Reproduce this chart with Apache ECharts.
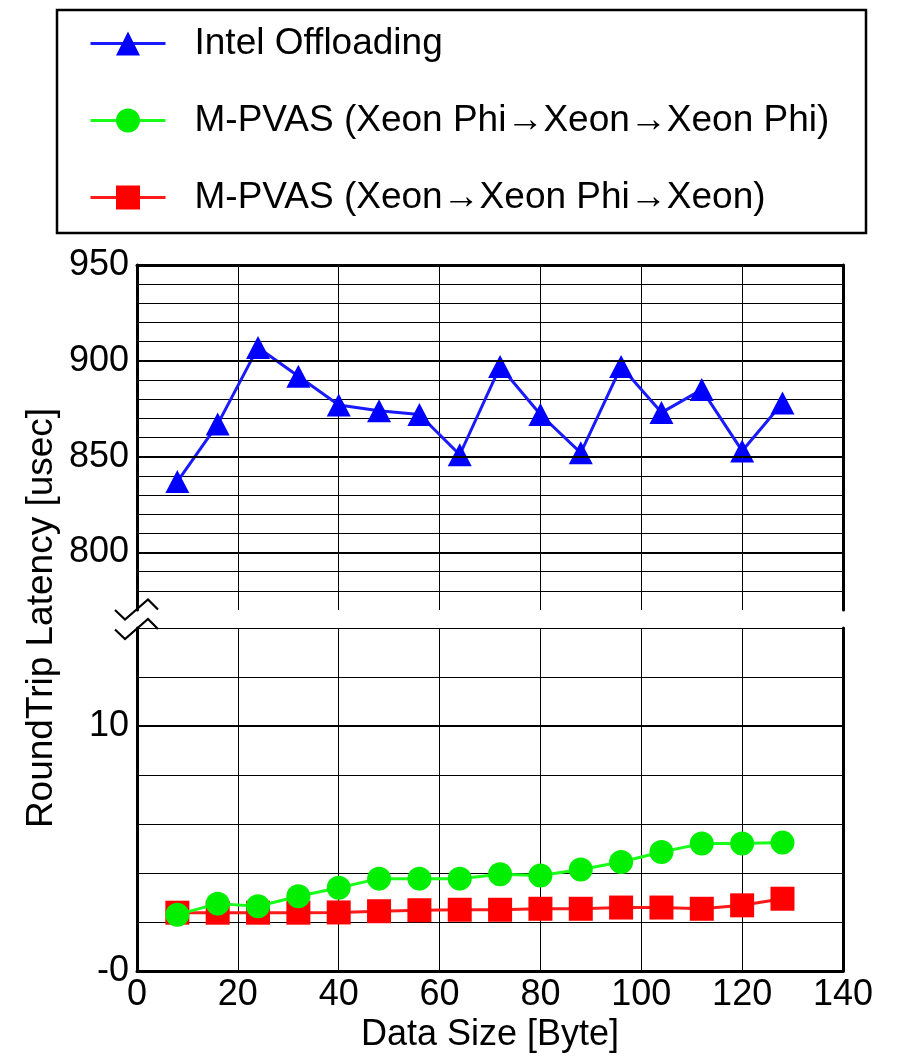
<!DOCTYPE html>
<html>
<head>
<meta charset="utf-8">
<script src="https://cdn.jsdelivr.net/npm/echarts@6/dist/echarts.min.js"></script>
<style>
  html, body { margin: 0; padding: 0; background: #fff; }
  #chart { width: 897px; height: 1056px; }
</style>
</head>
<body>
<div id="chart"></div>
<script>
// ---- data ----
const dataSizes = [8, 16, 24, 32, 40, 48, 56, 64, 72, 80, 88, 96, 104, 112, 120, 128];
const intelOffloading = [837, 867, 907, 892, 877, 874, 872, 851, 897, 872, 852, 897, 873, 885, 853, 878];
const mpvasPhiXeonPhi = [2.30, 2.75, 2.64, 3.05, 3.40, 3.77, 3.77, 3.77, 3.95, 3.90, 4.14, 4.45, 4.86, 5.20, 5.20, 5.24];
const mpvasXeonPhiXeon = [2.38, 2.38, 2.38, 2.38, 2.39, 2.44, 2.48, 2.50, 2.50, 2.54, 2.54, 2.59, 2.59, 2.54, 2.68, 2.95];
const seriesNames = ['Intel Offloading', 'M-PVAS (Xeon Phi\u2192Xeon\u2192Xeon Phi)', 'M-PVAS (Xeon\u2192Xeon Phi\u2192Xeon)'];
const topTickLabels = [800, 850, 900, 950];
const topMajorLines = [800, 850, 900];
const bottomTickLabels = { 0: '-0', 10: '10' };
const bottomMajorLines = [10];
const xTitle = 'Data Size [Byte]';
const yTitle = 'RoundTrip Latency [usec]';

const FONT = 'Liberation Sans, Arial, Helvetica, sans-serif';
const FS = 36;

const chart = echarts.init(document.getElementById('chart'), null, { renderer: 'canvas' });

function pairs(xs, ys) { return xs.map((x, i) => [x, ys[i]]); }

const gridLine = { show: true, lineStyle: { color: '#000', width: 1, type: 'solid' } };
const border = { show: true, lineStyle: { color: '#000', width: 3 } };

const option = {
  animation: false,
  backgroundColor: '#fff',
  textStyle: { fontFamily: FONT },
  grid: [
    { left: 137, right: 54, top: 265, height: 345 },
    { left: 137, right: 54, top: 628, height: 343 }
  ],
  xAxis: [
    { gridIndex: 0, type: 'value', position: 'top', min: 0, max: 140, interval: 20,
      axisLine: border, axisTick: { show: false }, axisLabel: { show: false }, splitLine: gridLine },
    { gridIndex: 1, type: 'value', position: 'bottom', min: 0, max: 140, interval: 20,
      axisLine: border, axisTick: { show: false },
      axisLabel: { color: '#000', fontSize: FS, fontFamily: FONT, margin: 6 },
      splitLine: gridLine,
      name: xTitle, nameLocation: 'middle', nameGap: 46,
      nameTextStyle: { color: '#000', fontSize: FS, fontFamily: FONT } }
  ],
  yAxis: [
    { gridIndex: 0, type: 'value', position: 'left', min: 770, max: 950, interval: 10,
      axisLine: border, axisTick: { show: false },
      axisLabel: { color: '#000', fontSize: FS, fontFamily: FONT, margin: 8,
        showMinLabel: true, showMaxLabel: true,
        formatter: v => topTickLabels.includes(v) ? String(v) : '' },
      splitLine: Object.assign({ showMinLine: false }, gridLine) },
    { gridIndex: 0, type: 'value', position: 'right', min: 770, max: 950, interval: 10,
      axisLine: border, axisTick: { show: false }, axisLabel: { show: false }, splitLine: { show: false } },
    { gridIndex: 1, type: 'value', position: 'left', min: 0, max: 14, interval: 2,
      axisLine: border, axisTick: { show: false },
      axisLabel: { color: '#000', fontSize: FS, fontFamily: FONT, margin: 8,
        formatter: v => (bottomTickLabels[v] !== undefined ? bottomTickLabels[v] : '') },
      splitLine: gridLine },
    { gridIndex: 1, type: 'value', position: 'right', min: 0, max: 14, interval: 2,
      axisLine: border, axisTick: { show: false }, axisLabel: { show: false }, splitLine: { show: false } }
  ],
  legend: {
    data: seriesNames,
    orient: 'vertical',
    left: 89, top: 25,
    padding: 0,
    itemWidth: 75, itemHeight: 30, itemGap: 40,
    lineStyle: { width: 3 },
    textStyle: { color: '#000', fontSize: 37, fontFamily: FONT, padding: [0, 0, 0, 24] }
  },
  series: [
    { name: 'topMajor', type: 'line', xAxisIndex: 0, yAxisIndex: 0, data: [], z: 1,
      markLine: { silent: true, symbol: ['none', 'none'], label: { show: false },
        lineStyle: { color: '#000', width: 2, type: 'solid' },
        data: topMajorLines.map(v => ({ yAxis: v })) } },
    { name: 'bottomMajor', type: 'line', xAxisIndex: 1, yAxisIndex: 2, data: [], z: 1,
      markLine: { silent: true, symbol: ['none', 'none'], label: { show: false },
        lineStyle: { color: '#000', width: 2, type: 'solid' },
        data: bottomMajorLines.map(v => ({ yAxis: v })) } },
    { name: seriesNames[0], type: 'line', xAxisIndex: 0, yAxisIndex: 0, z: 3,
      data: pairs(dataSizes, intelOffloading),
      symbol: 'triangle', symbolSize: [24, 23],
      lineStyle: { color: '#1a1aff', width: 3 }, itemStyle: { color: '#0000ff' } },
    { name: seriesNames[2], type: 'line', xAxisIndex: 1, yAxisIndex: 2, z: 3,
      data: pairs(dataSizes, mpvasXeonPhiXeon),
      symbol: 'rect', symbolSize: 24,
      lineStyle: { color: '#ff1a1a', width: 3 }, itemStyle: { color: '#ff0000' } },
    { name: seriesNames[1], type: 'line', xAxisIndex: 1, yAxisIndex: 2, z: 4,
      data: pairs(dataSizes, mpvasPhiXeonPhi),
      symbol: 'circle', symbolSize: 24,
      lineStyle: { color: '#1aff1a', width: 3 }, itemStyle: { color: '#00ee00' } }
  ]
};

chart.setOption(option);

// decorations: legend frame, y title, axis break marks (positioned from the axes)
const corner = chart.convertToPixel({ xAxisIndex: 0, yAxisIndex: 0 }, [0, 770]);
const topLeft = chart.convertToPixel({ xAxisIndex: 0, yAxisIndex: 0 }, [0, 950]);
const botLeft = chart.convertToPixel({ xAxisIndex: 1, yAxisIndex: 2 }, [0, 0]);
const ax = corner[0], ay = corner[1];
const zig = dy => [[ax - 22, ay + dy], [ax - 12, ay + dy + 9.5], [ax + 11, ay + dy - 10.5], [ax + 21, ay + dy - 0.5]];

chart.setOption({
  graphic: [
    { type: 'rect', shape: { x: 57, y: 10, width: 809, height: 223 },
      style: { fill: 'none', stroke: '#000', lineWidth: 2.5 }, z: 10 },
    { type: 'text', x: 42, y: (topLeft[1] + botLeft[1]) / 2, rotation: Math.PI / 2,
      style: { text: yTitle, fontSize: 37, fontFamily: FONT, fill: '#000', align: 'center', verticalAlign: 'middle' } },
    { type: 'polyline', shape: { points: zig(0) }, style: { stroke: '#000', lineWidth: 2.2, fill: 'none' }, z: 20 },
    { type: 'polyline', shape: { points: zig(19.5) }, style: { stroke: '#000', lineWidth: 2.2, fill: 'none' }, z: 20 }
  ]
});
</script>
</body>
</html>
